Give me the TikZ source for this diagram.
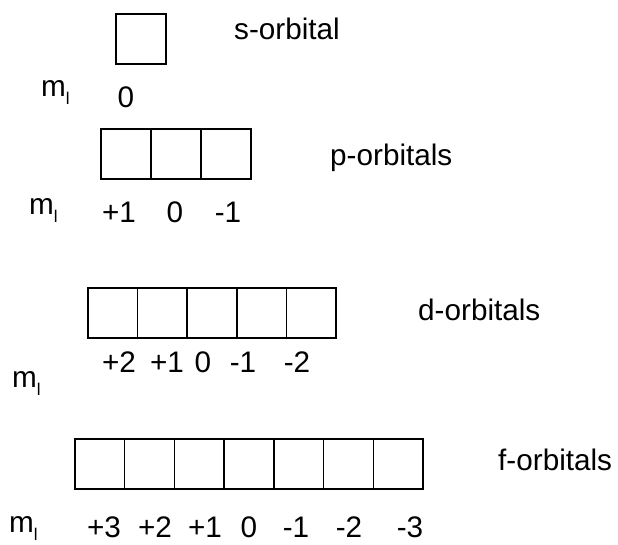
\documentclass[tikz,border=0pt]{standalone}
\usepackage{fontspec}
\setmainfont{Liberation Sans}
\tikzset{
  orb/.style={draw, line width=1.4pt, minimum width=49.7pt, minimum height=50pt, inner sep=0pt, outer sep=0pt},
  lbl/.style={anchor=base west, inner sep=0pt, font=\fontsize{29.7}{34}\selectfont},
  num/.style={anchor=base, inner sep=0pt, font=\fontsize{29.7}{34}\selectfont},
}
\newcommand{\mlsym}{m\raisebox{-0.28em}{\fontsize{17}{20}\selectfont l}}
\begin{document}
\begin{tikzpicture}[x=1pt,y=-1pt]
\useasboundingbox (0,0) rectangle (618,544);
% s
\node[orb, minimum width=50pt] (s0) at (141,39) {};
\node[lbl] (slab) at (234,39) {s-orbital};
\node[lbl] (sml) at (41,96) {\mlsym};
\node[num] (sn0) at (126,107) {0};
% p
\foreach \i/\cx in {1/126,2/176,3/226} {
  \node[orb, minimum width=50pt] (p\i) at (\cx,154) {};
}
\node[lbl] (plab) at (330,165) {p-orbitals};
\node[lbl] (pml) at (29,214) {\mlsym};
\node[num] (pn1) at (119,222) {+1};
\node[num] (pn2) at (175,222) {0};
\node[num] (pn3) at (228,222) {-1};
% d
\foreach \i in {1,...,5} {
  \node[orb] (d\i) at ({88+49.6*(\i-0.5)},313) {};
}
\node[lbl] (dlab) at (418,320) {d-orbitals};
\node[lbl] (dml) at (12,387) {\mlsym};
\node[num] (dn1) at (119,372) {+2};
\node[num] (dn2) at (167,372) {+1};
\node[num] (dn3) at (203,372) {0};
\node[num] (dn4) at (243,372) {-1};
\node[num] (dn5) at (297,372) {-2};
% f
\foreach \i in {1,...,7} {
  \node[orb] (f\i) at ({75+49.7*(\i-0.5)},464) {};
}
\node[lbl] (flab) at (498,470) {f-orbitals};
\node[lbl] (fml) at (9,532) {\mlsym};
\node[num] (fn1) at (104,537) {+3};
\node[num] (fn2) at (155,537) {+2};
\node[num] (fn3) at (205,537) {+1};
\node[num] (fn4) at (249,537) {0};
\node[num] (fn5) at (296,537) {-1};
\node[num] (fn6) at (349,537) {-2};
\node[num] (fn7) at (410,537) {-3};
\end{tikzpicture}
\end{document}
